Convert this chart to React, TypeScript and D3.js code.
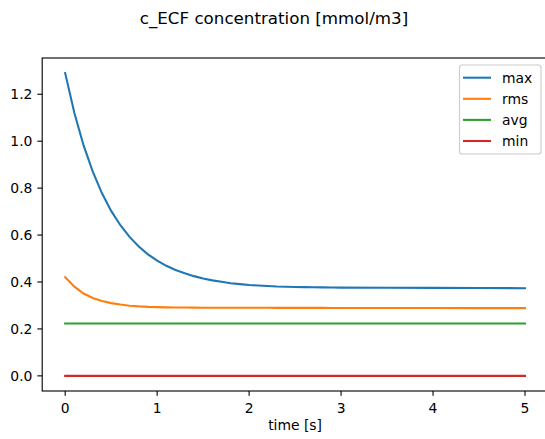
import React from "react";
import * as d3 from "d3";

const times: number[] = [
  0, 0.1, 0.2, 0.3, 0.4, 0.5, 0.6, 0.7, 0.8, 0.9, 1.0, 1.1, 1.2, 1.3, 1.4, 1.5, 1.6,
  1.7, 1.8, 1.9, 2.0, 2.1, 2.2, 2.3, 2.4, 2.5, 2.6, 2.7, 2.8, 2.9, 3.0, 3.5, 4.0, 4.5, 5.0,
];
const maxValues: number[] = [
  1.29, 1.12, 0.982, 0.87, 0.778, 0.703, 0.642, 0.592, 0.551, 0.518, 0.491, 0.469, 0.451,
  0.437, 0.425, 0.415, 0.407, 0.401, 0.395, 0.391, 0.387, 0.385, 0.383, 0.381, 0.38, 0.379,
  0.378, 0.3775, 0.377, 0.3765, 0.376, 0.3755, 0.375, 0.3745, 0.3735,
];
const rmsValues: number[] = [
  0.42, 0.38, 0.351, 0.332, 0.319, 0.31, 0.304, 0.299, 0.296, 0.294, 0.293, 0.292, 0.2915,
  0.291, 0.2907, 0.2905, 0.2903, 0.2902, 0.2901, 0.29, 0.29, 0.2899, 0.2899, 0.2898, 0.2898,
  0.2897, 0.2897, 0.2896, 0.2896, 0.2895, 0.2895, 0.2893, 0.289, 0.2888, 0.2885,
];
const avgValues: number[] = times.map(() => 0.223);
const minValues: number[] = times.map(() => 0.0);

const seriesNames: string[] = ["max", "rms", "avg", "min"];
const seriesColors: string[] = ["#1f77b4", "#ff7f0e", "#2ca02c", "#d62728"];
const xTicks: number[] = [0, 1, 2, 3, 4, 5];
const yTicks: number[] = [0.0, 0.2, 0.4, 0.6, 0.8, 1.0, 1.2];
const titleText = "c_ECF concentration [mmol/m3]";
const xLabel = "time [s]";

const W = 545;
const H = 439;
const left = 42.2;
const right = 548;
const top = 58;
const bottom = 391;
const FS = 13.9;
const FONT = "DejaVu Sans, sans-serif";

export default function App() {
  const allSeries = [maxValues, rmsValues, avgValues, minValues];
  const yMax = d3.max(allSeries.flat()) as number;
  const yMin = d3.min(allSeries.flat()) as number;
  const yPad = (yMax - yMin) * 0.05;
  const xPad = 5 * 0.05;
  const x = d3.scaleLinear().domain([0 - xPad, 5 + xPad]).range([left, right]);
  const y = d3.scaleLinear().domain([yMin - yPad, yMax + yPad]).range([bottom, top]);

  const line = d3
    .line<number>()
    .x((_, i) => x(times[i]))
    .y((d) => y(d));

  const legX = 459.5;
  const legY = 65;
  const legW = 81.5;
  const legH = 89;

  return (
    <svg
      width={W}
      height={H}
      style={{ position: "absolute", left: 0, top: 0, background: "#fff" }}
      fontFamily={FONT}
    >
      <rect x={0} y={0} width={W} height={H} fill="#fff" />
      <text x={274} y={24} fontSize={16.7} textAnchor="middle" fill="#000">
        {titleText}
      </text>
      {allSeries.map((vals, k) => (
        <path
          key={k}
          d={line(vals) || ""}
          fill="none"
          stroke={seriesColors[k]}
          strokeWidth={2.08}
          strokeLinecap="square"
        />
      ))}
      <rect
        x={left}
        y={top}
        width={right - left}
        height={bottom - top}
        fill="none"
        stroke="#000"
        strokeWidth={1.11}
      />
      {xTicks.map((t) => (
        <g key={t}>
          <line x1={x(t)} x2={x(t)} y1={bottom} y2={bottom + 4.86} stroke="#000" strokeWidth={1.11} />
          <text x={x(t)} y={bottom + 21.5} fontSize={FS} textAnchor="middle" fill="#000">
            {String(t)}
          </text>
        </g>
      ))}
      {yTicks.map((v) => (
        <g key={v}>
          <line x1={left - 4.86} x2={left} y1={y(v)} y2={y(v)} stroke="#000" strokeWidth={1.11} />
          <text
            x={left - 9.8}
            y={y(v)}
            dy="0.36em"
            fontSize={FS}
            textAnchor="end"
            fill="#000"
          >
            {v.toFixed(1)}
          </text>
        </g>
      ))}
      <text x={(left + right) / 2} y={430} fontSize={FS} textAnchor="middle" fill="#000">
        {xLabel}
      </text>
      <rect
        x={legX}
        y={legY}
        width={legW}
        height={legH}
        rx={2.8}
        fill="#fff"
        fillOpacity={0.8}
        stroke="#cccccc"
        strokeWidth={1.11}
      />
      {seriesNames.map((name, i) => {
        const ry = 77.7 + i * 21.1;
        return (
          <g key={name}>
            <line x1={463} x2={491} y1={ry} y2={ry} stroke={seriesColors[i]} strokeWidth={2.08} />
            <text x={502} y={ry} dy="0.36em" fontSize={FS} fill="#000">
              {name}
            </text>
          </g>
        );
      })}
    </svg>
  );
}
